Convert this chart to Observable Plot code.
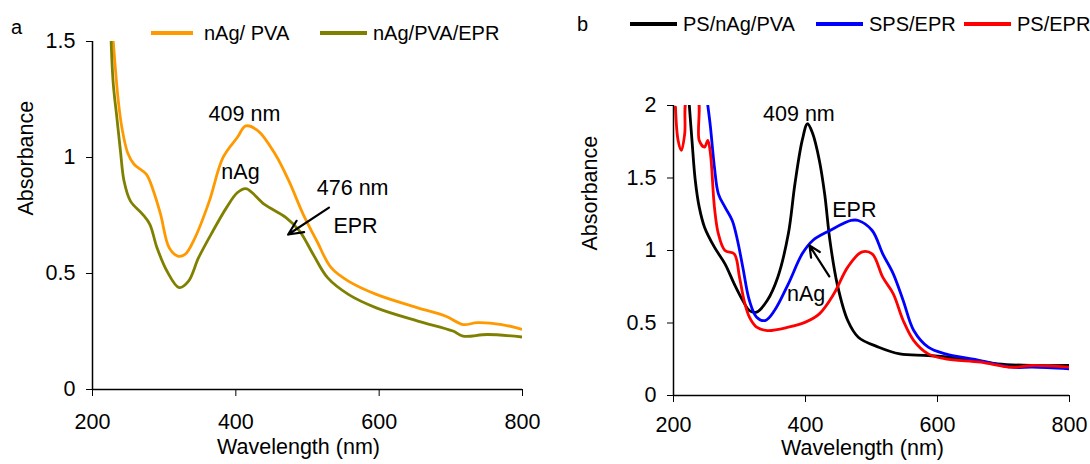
<!DOCTYPE html>
<html><head><meta charset="utf-8">
<script src="https://cdn.jsdelivr.net/npm/d3@7"></script>
<script src="https://cdn.jsdelivr.net/npm/@observablehq/plot@0.6"></script>
<style>
body{margin:0;background:#fff;font-family:"Liberation Sans",Arial,sans-serif;}
#wrap{position:relative;width:1090px;height:464px;overflow:hidden;}
.pan{position:absolute;top:0;}
.lg{position:absolute;font-size:20px;color:#000;line-height:22px;white-space:nowrap;}
.sw{position:absolute;height:4px;}
</style></head>
<body><div id="wrap"></div>
<script>
// ---- Panel a data ----
const aPVA_x = [229,236,241,249,258,275,285,295,307,319,329,343,363,382,402,414,431,455,474,494,513,533,557,596,654,693,717,737,771,800];
const aPVA_y = [1.5,1.244,1.129,1.021,0.971,0.928,0.856,0.755,0.611,0.575,0.582,0.654,0.812,0.999,1.086,1.136,1.115,1.014,0.899,0.755,0.640,0.525,0.467,0.410,0.352,0.316,0.280,0.288,0.280,0.259];
const aEPR_x = [226,229,234,239,244,253,270,280,290,304,321,334,348,368,387,402,414,440,470,489,508,528,557,596,654,703,717,751,800];
const aEPR_y = [1.5,1.316,1.172,1.028,0.899,0.812,0.755,0.712,0.611,0.510,0.439,0.467,0.568,0.683,0.784,0.848,0.866,0.798,0.741,0.683,0.582,0.482,0.410,0.352,0.295,0.252,0.230,0.237,0.226];
// ---- Panel b data ----
const bPS_x = [224,228,233,239,247,262,278,292,305,315,326,342,358,374,384,395,403,411,421,429,437,448,464,480,511,543,586,639,691,744,800];
const bPS_y = [2.0,1.759,1.483,1.299,1.161,1.023,0.908,0.770,0.655,0.586,0.575,0.655,0.816,1.115,1.460,1.759,1.874,1.805,1.621,1.391,1.069,0.770,0.517,0.402,0.333,0.287,0.276,0.253,0.218,0.207,0.207];
const bSPS_x = [252,256,262,268,278,289,297,305,315,326,339,353,374,395,411,437,469,480,501,517,533,548,564,586,612,665,713,744,800];
const bSPS_y = [2.0,1.851,1.575,1.391,1.299,1.207,1.069,0.885,0.655,0.540,0.517,0.586,0.770,0.977,1.069,1.138,1.207,1.207,1.138,0.977,0.839,0.655,0.448,0.333,0.287,0.241,0.195,0.195,0.184];
const bPSE_x = [203,207,212,217,221,236,239,247,252,256,262,268,278,292,300,307,315,326,342,374,400,421,443,464,485,501,517,533,548,564,586,612,665,713,744,800];
const bPSE_y = [1.989,1.759,1.690,1.805,2.05,2.05,1.759,1.713,1.759,1.667,1.299,1.115,1.000,0.977,0.816,0.655,0.540,0.471,0.448,0.471,0.506,0.563,0.701,0.885,0.989,0.977,0.816,0.701,0.517,0.379,0.287,0.253,0.230,0.195,0.207,0.195];

const seriesA = ["nAg/ PVA","nAg/PVA/EPR"];
const colorsA = ["#FF9900","#808000"];
const seriesB = ["PS/nAg/PVA","SPS/EPR","PS/EPR"];
const colorsB = ["#000000","#0000FF","#FF0000"];

const xTicks = [200,400,600,800];
const yTicksA = [0,0.5,1,1.5];
const yTicksB = [0,0.5,1,1.5,2];

// annotations
const annA_text = ["409 nm","nAg","476 nm","EPR"];
const annA_x = [412,406.5,563,567];
const annA_y = [1.185,0.935,0.87,0.705];
const arrA = [{x1:530,y1:0.784,x2:473,y2:0.668}];
const annB_text = ["409 nm","EPR","nAg"];
const annB_x = [390,474,401];
const annB_y = [1.943,1.281,0.70];
const arrB = [{x1:436,y1:0.821,x2:406,y2:1.035}];

function toRows(xs, ys, s){ return xs.map((x,i)=>({x, y:ys[i], s})); }
const rowsA = [...toRows(aPVA_x,aPVA_y,seriesA[0]), ...toRows(aEPR_x,aEPR_y,seriesA[1])];
const rowsB = [...toRows(bPS_x,bPS_y,seriesB[0]), ...toRows(bSPS_x,bSPS_y,seriesB[1]), ...toRows(bPSE_x,bPSE_y,seriesB[2])];

const fmt = d => String(d);
const FS = 21.5;
const font = {fontSize:FS+"px", fontFamily:"'Liberation Sans', Arial, sans-serif", background:"transparent", color:"#000", overflow:"visible"};

function panel(o){
  return Plot.plot({
    width:545, height:464,
    marginLeft:o.ml, marginRight:o.mr, marginTop:o.mt, marginBottom:o.mb,
    style:font,
    x:{domain:[200,800], ticks:xTicks, tickFormat:fmt, label:null, tickSize:7, tickPadding:o.xtp},
    y:{domain:o.ydom, ticks:o.yticks, tickFormat:fmt, label:null, tickSize:6, tickPadding:11},
    color:{domain:o.series, range:o.colors},
    marks:[
      Plot.line(o.rows,{x:"x",y:"y",z:"s",stroke:"s",strokeWidth:2.8,curve:"catmull-rom",clip:true}),
      Plot.ruleX([200],{stroke:"#000",strokeWidth:1.5}),
      Plot.ruleY([0],{stroke:"#000",strokeWidth:1.5}),
      Plot.text(o.annText,{x:(d,i)=>o.annX[i], y:(d,i)=>o.annY[i], text:d=>d, fontSize:FS, fill:"#000"}),
      Plot.arrow(o.arr,{x1:"x1",y1:"y1",x2:"x2",y2:"y2",stroke:"#000",strokeWidth:2.2,headLength:11,headAngle:50}),
      Plot.text(["Absorbance"],{frameAnchor:"left", dx:-o.ylo, rotate:-90, fontSize:FS, fill:"#000"}),
      Plot.text(["Wavelength (nm)"],{frameAnchor:"bottom", dy:o.xlo, dx:-9, fontSize:FS, fill:"#000"})
    ]
  });
}

const pa = panel({ml:92,mr:23,mt:41,mb:75,ydom:[0,1.5],yticks:yTicksA,series:seriesA,colors:colorsA,rows:rowsA,
  annText:annA_text,annX:annA_x,annY:annA_y,arr:arrA,ylo:66,xlo:64,xtp:17});
const pb = panel({ml:128,mr:21,mt:105,mb:69,ydom:[0,2],yticks:yTicksB,series:seriesB,colors:colorsB,rows:rowsB,
  annText:annB_text,annX:annB_x,annY:annB_y,arr:arrB,ylo:83,xlo:59,xtp:14});

const wrap = document.getElementById("wrap");
pa.classList.add("pan"); pa.style.left="0px";
pb.classList.add("pan"); pb.style.left="545px";
wrap.appendChild(pa); wrap.appendChild(pb);

function addText(t,x,y){ const d=document.createElement("div"); d.className="lg"; d.textContent=t; d.style.left=x+"px"; d.style.top=(y-11)+"px"; wrap.appendChild(d); }
function addSw(c,x1,x2,y){ const d=document.createElement("div"); d.className="sw"; d.style.background=c; d.style.left=x1+"px"; d.style.width=(x2-x1)+"px"; d.style.top=(y-2)+"px"; wrap.appendChild(d); }
// legends
const legA = [[151,193,204],[320,367,373]];
seriesA.forEach((s,i)=>{ addSw(colorsA[i],legA[i][0],legA[i][1],33); addText(s,legA[i][2],33); });
const legB = [[630,677,683],[816,863,869],[964,1011,1017]];
seriesB.forEach((s,i)=>{ addSw(colorsB[i],legB[i][0],legB[i][1],24); addText(s,legB[i][2],24); });
addText("a",11,27);
addText("b",577,24);
</script></body></html>
